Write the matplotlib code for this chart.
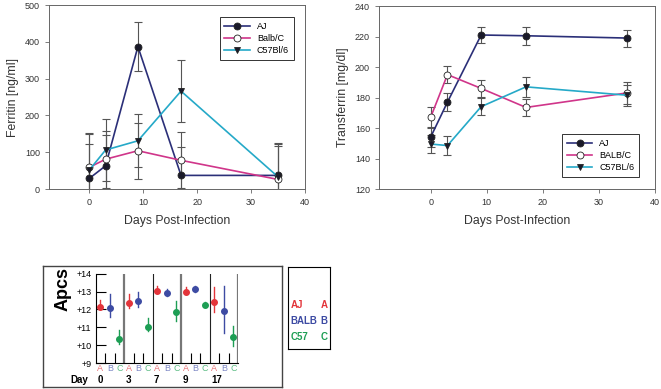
import numpy as np
import matplotlib.pyplot as plt

plt.rcParams['font.family'] = ['Liberation Sans', 'DejaVu Sans']

days = [0, 3, 9, 17, 35]

fer_aj = [29, 63, 387, 37, 37]
fer_aj_err = [93, 84, 67, 77, 88]
fer_balb = [59, 81, 104, 78, 26]
fer_balb_err = [94, 77, 76, 76, 90]
fer_c57 = [52, 106, 131, 266, 33]
fer_c57_err = [97, 84, 72, 84, 88]

tf_aj = [154, 177, 221, 220.5, 219]
tf_aj_err = [6.5, 6, 5, 6, 5.6]
tf_balb = [167, 195, 186, 173.5, 183]
tf_balb_err = [7, 5.5, 5.5, 5.8, 7]
tf_c57 = [149.5, 148.5, 174, 187, 181.5]
tf_c57_err = [6, 6, 5.4, 6.5, 7]

apcs_days = ['0', '3', '7', '9', '17']
apcs_a = [12.13, 12.38, 13.02, 12.98, 12.42]
apcs_a_lo = [12.0, 12.1, 12.9, 12.85, 11.85]
apcs_a_hi = [12.55, 12.85, 13.3, 13.25, 13.25]
apcs_b = [12.07, 12.46, 12.9, 13.14, 11.92]
apcs_b_lo = [11.55, 12.15, 12.75, 13.0, 10.7]
apcs_b_hi = [12.85, 12.95, 13.15, 13.3, 13.3]
apcs_c = [10.36, 11.03, 11.83, 12.27, 10.45]
apcs_c_lo = [10.05, 10.8, 11.35, 12.2, 9.95]
apcs_c_hi = [10.85, 11.5, 12.45, 12.4, 11.1]

c_aj = '#2b2f78'
c_balb = '#d0358a'
c_c57 = '#25a9c8'
c_err = '#555555'
c_txt = '#333333'

fig = plt.figure(figsize=(6.61, 3.89), dpi=100)


def panel(ax, ys, errs, labels, ylim, yticks, ylabel, xlim, legloc, anchor):
    colors = [c_aj, c_balb, c_c57]
    markers = ['o', 'o', 'v']
    faces = ['#1a1a2a', 'white', '#1a1a2a']
    for y, e, col, m, f, lab in zip(ys, errs, colors, markers, faces, labels):
        ax.errorbar(days, y, yerr=e, fmt='none', ecolor=c_err, elinewidth=0.8,
                    capsize=3, capthick=0.8, zorder=2)
        ax.plot(days, y, color=col, lw=1.2, marker=m, markersize=5,
                markerfacecolor=f, markeredgecolor='#222222',
                markeredgewidth=0.6, label=lab, zorder=3)
    ax.set_xlim(xlim)
    ax.set_ylim(ylim)
    ax.set_xticks([0, 10, 20, 30, 40])
    ax.set_yticks(yticks)
    ax.tick_params(labelsize=6.5, length=3, width=0.6, direction='out',
                   colors='#666666', labelcolor=c_txt)
    for s in ax.spines.values():
        s.set_linewidth(0.7)
        s.set_edgecolor('#666666')
    ax.set_xlabel('Days Post-Infection', fontsize=8.8, labelpad=6, color=c_txt)
    ax.set_ylabel(ylabel, fontsize=8.8, color=c_txt)
    leg = ax.legend(loc=legloc, bbox_to_anchor=anchor, fontsize=6.5, frameon=True,
                    fancybox=False, edgecolor='black', borderpad=0.55,
                    handlelength=2.8, labelspacing=0.35)
    leg.get_frame().set_linewidth(0.7)


ax1 = fig.add_axes([0.0741, 0.5141, 0.3873, 0.473])
panel(ax1, [fer_aj, fer_balb, fer_c57], [fer_aj_err, fer_balb_err, fer_c57_err],
      ['AJ', 'Balb/C', 'C57Bl/6'], (0, 500), range(0, 501, 100),
      'Ferritin [ng/ml]', (-7.5, 40), 'upper right', (0.975, 0.96))

ax2 = fig.add_axes([0.5734, 0.5141, 0.4176, 0.4704])
panel(ax2, [tf_aj, tf_balb, tf_c57], [tf_aj_err, tf_balb_err, tf_c57_err],
      ['AJ', 'BALB/C', 'C57BL/6'], (120, 240), range(120, 241, 20),
      'Transferrin [mg/dl]', (-9.2, 40), 'lower right', (0.96, 0.04))

# Apcs panel
frame = fig.add_axes([0.065, 0.0051, 0.3616, 0.311])
frame.set_xticks([])
frame.set_yticks([])
for s in frame.spines.values():
    s.set_linewidth(1.0)
    s.set_edgecolor('#444444')
frame.text(0.084, 0.81, 'Apcs', rotation=90, fontsize=13, fontweight='bold',
           ha='center', va='center', transform=frame.transAxes)

ax3 = fig.add_axes([0.1448, 0.0668, 0.2153, 0.2296])
red = '#e3343a'
blue = '#3d4ba3'
green = '#1d9e54'
for g in range(5):
    for val, lo, hi, col, k in [(apcs_a[g], apcs_a_lo[g], apcs_a_hi[g], red, 0),
                                (apcs_b[g], apcs_b_lo[g], apcs_b_hi[g], blue, 1),
                                (apcs_c[g], apcs_c_lo[g], apcs_c_hi[g], green, 2)]:
        x = g * 3 + k + 0.5
        ax3.plot([x, x], [lo, hi], color=col, lw=1.0)
        ax3.plot(x, val, 'o', color=col, markersize=4)
for g in range(1, 6):
    if g % 2 == 1:
        ax3.axvline(g * 3, color='#777777', lw=1.6)
    else:
        ax3.axvline(g * 3, color='#222222', lw=0.8)
ax3.set_xlim(0, 15)
ax3.set_ylim(9, 14)
ax3.set_yticks(range(9, 15))
ax3.set_yticklabels(['+%d' % v for v in range(9, 15)], fontsize=6.5)
ax3.tick_params(axis='y', direction='in', length=7, width=0.8, pad=3)
small = [g * 3 + k for g in range(5) for k in (1, 2)]
ax3.set_xticks(small)
ax3.set_xticklabels([])
ax3.tick_params(axis='x', direction='in', length=7, width=0.8)
ax3.spines['top'].set_visible(False)
ax3.spines['right'].set_visible(False)
ax3.spines['left'].set_linewidth(0.8)
ax3.spines['bottom'].set_linewidth(0.8)
lt = {0: ('A', '#e8757a'), 1: ('B', '#7c87c4'), 2: ('C', '#5cbc84')}
for g in range(5):
    for k in range(3):
        ax3.text(g * 3 + k + 0.5, -0.015, lt[k][0], color=lt[k][1], fontsize=6.5,
                 ha='center', va='top', transform=ax3.get_xaxis_transform())
    ax3.text(g * 3 + 0.15, -0.13, apcs_days[g], fontsize=7, fontweight='bold',
             ha='left', va='top', transform=ax3.get_xaxis_transform())
ax3.text(-1.7, -0.13, 'Day', fontsize=7, fontweight='bold', ha='center', va='top',
         transform=ax3.get_xaxis_transform())

lg = fig.add_axes([0.4357, 0.1028, 0.0635, 0.2108])
lg.set_xticks([])
lg.set_yticks([])
for s in lg.spines.values():
    s.set_linewidth(0.8)
for name, short, col, yy in [('AJ', 'A', red, 0.54), ('BALB', 'B', blue, 0.34),
                             ('C57', 'C', green, 0.145)]:
    lg.text(0.06, yy, name, color=col, fontsize=7, fontweight='bold', va='center')
    lg.text(0.94, yy, short, color=col, fontsize=7, fontweight='bold', va='center',
            ha='right')

plt.savefig('out.png', dpi=100)
